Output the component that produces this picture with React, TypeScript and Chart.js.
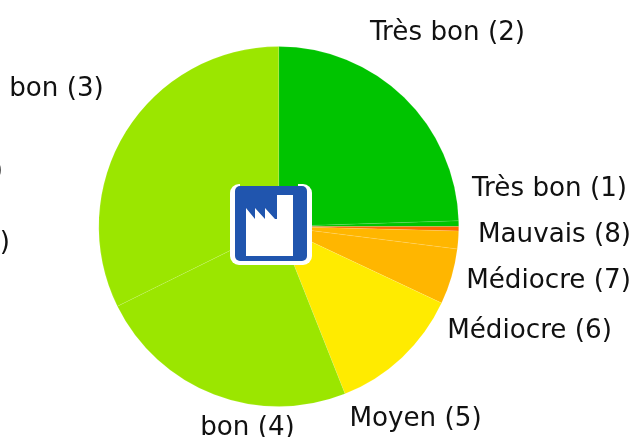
import React, { useEffect, useRef } from "react";
import { Chart, registerables } from "chart.js";

Chart.register(...registerables);

const categories = ["Très bon (2)", "Très bon (1)", "Mauvais (8)", "Médiocre (7)", "Médiocre (6)", "Moyen (5)", "bon (4)", "bon (3)"];
const shares = [24.5, 0.5, 0.4, 1.6, 5.0, 12.0, 23.7, 32.3];
const sliceColors = ["#00c400", "#00c400", "#ff6a00", "#ffb600", "#ffb600", "#ffeb00", "#9be600", "#9be600"];
const clippedLabels = [")", ")"];

// Label centres, relative to a fixed pie centre
const labelCentre = [279, 226];
const labelOffsets = [[168.5, -194], [270.5, -38], [275.5, 8], [269.5, 54], [250.5, 104], [136.5, 192], [-31.5, 201], [-222.5, -138]];
const clippedLabelEnds = [[3, 171], [10, 243]];

const labelPlugin = {
  id: "pieLabels",
  afterDraw(chart: any) {
    const { ctx } = chart;
    const [cx, cy] = labelCentre;
    ctx.save();
    ctx.font = '26.2px "DejaVu Sans"';
    ctx.fillStyle = "#111";
    ctx.textBaseline = "middle";
    ctx.textAlign = "center";
    categories.forEach((c, i) => ctx.fillText(c, cx + labelOffsets[i][0], cy + labelOffsets[i][1] + 1));
    ctx.textAlign = "right";
    clippedLabels.forEach((c, i) => ctx.fillText(c, clippedLabelEnds[i][0], clippedLabelEnds[i][1]));

    // factory sign
    const ox = cx - 49;
    const oy = cy - 42;
    // white frame, open along the middle of its top edge
    ctx.save();
    ctx.beginPath();
    ctx.rect(ox - 2, oy - 2, 86, 86);
    ctx.rect(ox + 10, oy - 2, 58, 4);
    ctx.clip("evenodd");
    ctx.fillStyle = "#ffffff";
    ctx.beginPath();
    ctx.roundRect(ox, oy, 82, 81, 9);
    ctx.fill();
    ctx.restore();
    ctx.fillStyle = "#2055ae";
    ctx.beginPath();
    ctx.roundRect(ox + 5, oy + 2, 72, 75, 5);
    ctx.fill();
    ctx.fillStyle = "#ffffff";
    ctx.beginPath();
    const p = [[246, 208], [255, 219], [255, 208], [265, 219], [265, 208], [275, 219], [277, 219], [277, 195], [293, 195], [293, 256], [246, 256]];
    p.forEach(([x, y], i) => {
      const px = ox + (x - 230);
      const py = oy + (y - 184);
      if (i === 0) ctx.moveTo(px, py);
      else ctx.lineTo(px, py);
    });
    ctx.closePath();
    ctx.fill();
    ctx.restore();
  },
};

export default function App() {
  const ref = useRef<HTMLCanvasElement>(null);
  useEffect(() => {
    document.body.style.margin = "0";
    const chart = new Chart(ref.current!, {
      type: "pie",
      data: {
        labels: categories,
        datasets: [{
          data: shares,
          backgroundColor: sliceColors,
          borderColor: "rgba(255,255,255,0.18)",
          borderWidth: 0.6,
        }],
      },
      options: {
        animation: false,
        responsive: false,
        layout: { padding: { left: 98.5, right: 173, top: 46, bottom: 30 } },
        plugins: { legend: { display: false }, tooltip: { enabled: false }, title: { display: false } },
      },
      plugins: [labelPlugin],
    } as any);
    return () => chart.destroy();
  }, []);
  return <canvas ref={ref} width={632} height={437} style={{ display: "block" }} />;
}
